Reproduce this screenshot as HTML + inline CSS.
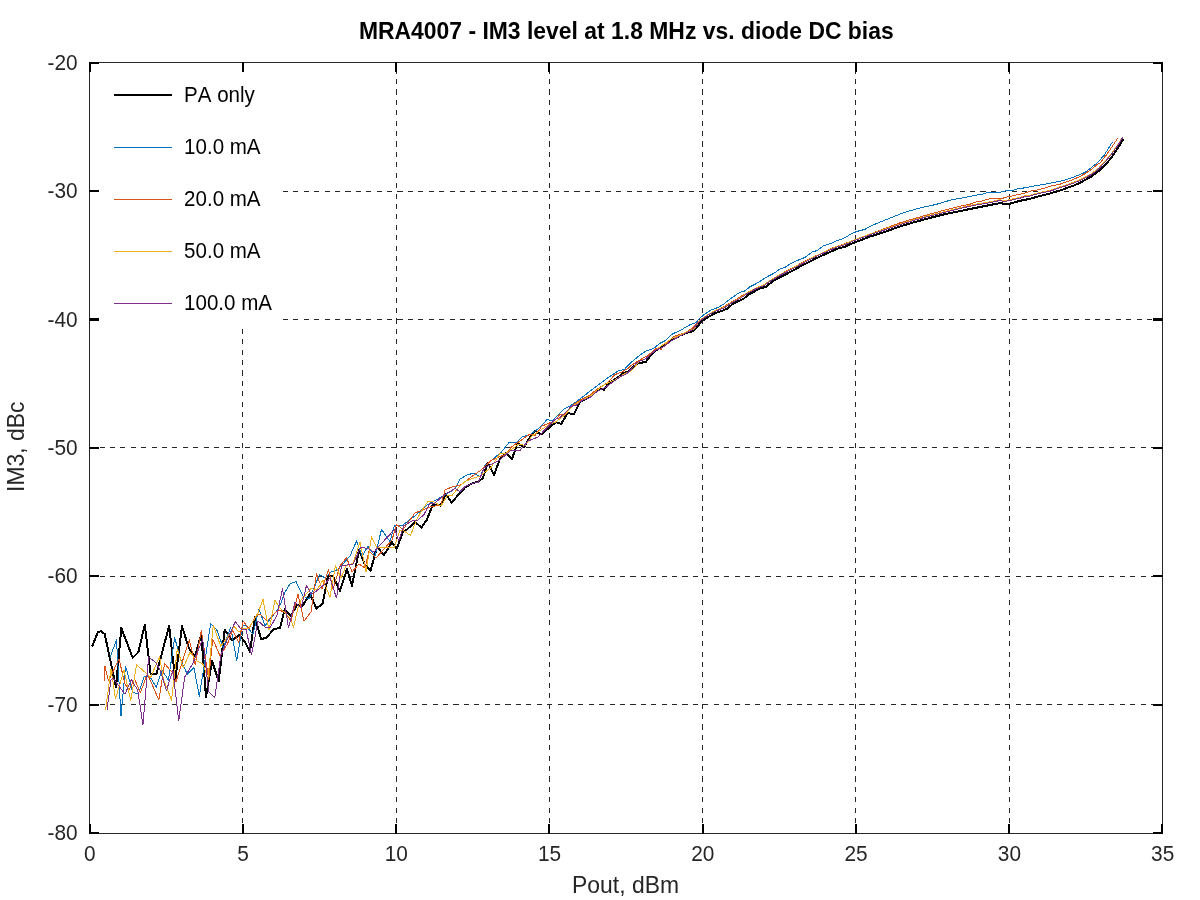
<!DOCTYPE html><html><head><meta charset="utf-8"><title>MRA4007 - IM3 level at 1.8 MHz vs. diode DC bias</title><style>html,body{margin:0;padding:0;background:#fff;width:1200px;height:900px;overflow:hidden}svg{display:block;will-change:transform}text{font-family:"Liberation Sans",Arial,Helvetica,sans-serif;font-kerning:none}</style></head><body>
<svg width="1200" height="900" viewBox="0 0 1200 900">
<rect width="1200" height="900" fill="#fff"/>
<g fill="none" stroke="#262626" stroke-width="1" shape-rendering="crispEdges" stroke-dasharray="5.10 5.31">
<path d="M242.5 62 V833 M396.5 62 V833 M549.5 62 V833 M702.5 62 V833 M855.5 62 V833 M1009.5 62 V833" stroke-dashoffset="3.81"/>
<path d="M89 191.5 H1162 M89 319.5 H1162" stroke-dashoffset="3.81"/>
<path d="M89 447.5 H1162 M89 576.5 H1162 M89 704.5 H1162" stroke-dashoffset="-0.09"/>
</g>
<path d="M92.0 646.7 L98.0 632.0 L101.3 631.3 L104.7 634.0 L116.0 687.3 L121.3 628.0 L132.7 657.8 L138.4 652.1 L144.8 624.6 L150.6 673.8 L156.3 674.4 L169.1 625.9 L175.3 679.7 L182.0 626.3 L188.7 647.7 L194.7 657.0 L201.3 634.3 L206.0 697.0 L212.0 661.0 L218.7 681.0 L224.7 629.7 L232.0 640.3 L239.3 635.0 L245.0 642.0 L250.0 652.0 L255.0 617.0 L261.0 639.0 L266.0 638.0 L274.0 629.0 L280.0 628.0 L284.7 609.3 L291.0 616.0 L296.7 605.2 L302.5 606.0 L310.0 594.0 L316.5 608.5 L322.5 604.0 L328.0 576.0 L333.0 576.0 L340.0 591.0 L347.0 569.0 L352.0 586.0 L359.0 550.0 L365.0 565.0 L370.5 571.0 L377.0 547.0 L384.0 555.0 L392.0 542.0 L396.5 549.0 L403.0 532.0 L407.0 529.5 L415.0 522.0 L421.5 527.5 L427.0 519.5 L432.5 505.5 L437.0 504.5 L440.5 505.5 L446.0 494.0 L451.5 502.5 L465.0 487.5 L472.0 483.5 L478.0 481.5 L483.0 478.0 L487.5 463.0 L490.0 467.0 L494.0 475.0 L500.0 459.0 L506.0 453.0 L512.0 459.0 L517.5 443.0 L524.0 447.5 L530.0 437.0 L535.0 431.0 L541.0 434.5 L556.0 422.0 L557.5 422.9 L561.3 423.8 L567.5 413.3 L574.2 413.8 L580.0 402.1 L588.3 397.5 L598.3 389.2 L604.2 389.6 L608.3 383.3 L613.3 380.4 L618.3 377.1 L623.3 372.9 L628.3 371.7 L634.7 365.7 L638.6 362.9 L645.6 362.2 L649.4 357.1 L656.4 350.1 L660.3 347.8 L666.5 343.1 L673.5 339.2 L679.8 335.7 L686.0 333.0 L692.2 331.4 L697.7 326.8 L700.0 322.7 L707.8 317.2 L715.6 312.9 L722.6 310.6 L727.2 308.7 L732.7 304.0 L737.3 301.7 L743.5 298.9 L748.2 294.7 L754.4 291.5 L759.9 288.4 L766.1 286.9 L771.5 282.2 L777.8 278.3 L784.0 275.2 L792.5 270.8 L800.0 266.6 L807.5 262.9 L815.0 258.8 L822.5 255.4 L830.0 252.0 L837.5 248.6 L845.0 246.8 L851.0 243.8 L860.0 240.4 L870.0 236.6 L885.0 231.8 L900.0 226.5 L915.0 222.0 L930.0 217.9 L945.0 214.1 L960.0 211.1 L965.0 210.0 L975.0 208.0 L985.0 206.0 L995.0 204.0 L1001.5 202.8 L1003.0 204.0 L1009.0 204.0 L1015.0 202.2 L1020.0 200.8 L1030.0 198.8 L1040.0 196.0 L1050.0 193.5 L1060.0 190.5 L1065.0 188.7 L1071.7 186.3 L1078.3 183.7 L1085.0 180.0 L1091.7 176.3 L1098.3 171.3 L1105.0 165.3 L1111.7 157.3 L1118.3 147.3 L1123.7 138.7" fill="none" stroke="#000" stroke-width="2" stroke-linejoin="round" shape-rendering="crispEdges"/>
<path d="M110.0 657.5 L116.5 640.0 L121.0 716.0 L125.6 666.1 L132.7 692.3 L138.4 694.2 L144.2 676.3 L150.0 677.0 L156.3 687.2 L162.1 670.0 L168.4 680.2 L174.7 637.7 L180.7 659.7 L187.3 674.3 L194.0 667.7 L199.3 696.3 L210.7 623.7 L216.7 629.7 L223.3 647.7 L230.7 627.0 L236.7 661.0 L242.7 625.0 L245.0 625.0 L253.0 634.0 L259.0 609.0 L265.0 626.0 L271.0 618.0 L279.0 608.0 L285.0 592.0 L290.0 584.0 L296.0 581.5 L303.0 596.0 L309.0 599.0 L314.0 588.0 L319.5 574.5 L325.0 578.0 L331.0 572.0 L338.0 569.5 L350.0 556.0 L356.5 541.0 L362.0 556.0 L368.0 546.5 L375.0 556.0 L381.5 529.5 L390.0 541.5 L394.5 525.0 L403.0 525.0 L415.0 516.0 L427.0 505.0 L437.0 499.5 L451.0 491.5 L456.0 487.0 L460.0 479.0 L467.0 475.0 L474.0 473.0 L480.0 477.0 L485.0 465.5 L501.0 452.5 L509.0 442.5 L516.0 443.0 L522.0 437.0 L530.0 434.5 L540.0 427.5 L547.0 419.5 L552.0 421.0 L555.0 418.3 L565.0 408.3 L569.2 406.7 L580.8 398.3 L588.3 392.5 L596.7 386.2 L608.3 377.5 L618.3 370.8 L624.2 369.6 L630.0 363.3 L634.7 359.4 L639.3 355.5 L645.6 351.3 L654.1 348.2 L659.5 343.5 L665.8 340.4 L672.0 334.2 L680.5 330.3 L689.1 325.2 L696.1 322.5 L700.0 318.0 L704.7 314.1 L710.9 310.2 L717.9 307.5 L723.3 304.4 L728.0 300.5 L734.2 296.2 L739.7 292.3 L744.3 291.2 L749.8 286.9 L756.0 283.8 L762.2 279.9 L768.4 276.0 L773.9 273.3 L780.1 269.0 L785.0 267.4 L792.5 262.5 L797.8 260.3 L805.3 257.3 L812.0 252.0 L817.3 250.5 L823.3 246.0 L830.0 243.8 L837.5 240.4 L843.5 238.5 L851.0 234.0 L857.0 231.4 L864.5 229.5 L870.0 226.5 L877.5 223.1 L885.0 220.1 L892.5 217.1 L900.0 214.1 L907.5 211.5 L915.0 209.3 L922.5 207.4 L930.0 205.9 L937.5 204.0 L945.0 201.8 L952.5 199.5 L960.0 198.4 L965.0 197.5 L971.0 196.2 L976.0 195.2 L981.0 194.5 L985.0 193.5 L987.5 192.4 L995.0 192.2 L1000.0 192.5 L1002.5 191.5 L1007.0 190.5 L1013.0 190.3 L1015.0 189.4 L1022.5 188.2 L1027.5 187.2 L1033.0 186.2 L1039.0 185.2 L1045.0 184.2 L1050.0 183.2 L1055.0 182.2 L1060.0 181.2 L1065.0 180.0 L1071.7 177.7 L1078.3 175.3 L1085.0 172.3 L1091.7 167.3 L1098.3 162.0 L1104.3 155.0 L1108.3 148.7 L1112.3 142.3" fill="none" stroke="#0072BD" stroke-width="1" stroke-linejoin="round" shape-rendering="crispEdges"/>
<path d="M104.5 681.5 L105.0 666.5 L108.5 681.0 L119.0 659.0 L125.0 684.0 L129.0 690.0 L134.6 678.9 L140.3 693.0 L147.4 673.8 L158.9 700.0 L164.6 663.6 L172.3 672.5 L176.0 681.7 L189.3 639.7 L195.3 665.0 L201.3 630.3 L208.7 679.7 L212.7 639.0 L220.0 655.7 L227.3 644.3 L232.7 630.3 L238.7 642.3 L243.3 621.0 L249.0 629.0 L255.0 617.0 L260.0 614.0 L267.0 621.0 L278.0 610.0 L285.0 612.0 L291.0 621.0 L298.0 594.0 L304.0 621.0 L311.0 612.0 L316.5 573.5 L322.0 589.0 L328.5 569.5 L333.0 589.0 L340.0 566.0 L346.5 557.5 L352.0 572.0 L359.0 564.0 L365.0 568.0 L369.0 551.0 L376.0 558.0 L392.0 540.0 L396.5 524.5 L403.0 529.5 L415.0 513.0 L420.0 511.0 L430.0 507.0 L441.0 505.0 L445.0 490.0 L453.0 486.5 L460.0 485.5 L475.0 474.0 L480.0 471.0 L491.0 460.5 L505.0 454.5 L512.0 446.5 L530.0 434.0 L535.0 435.5 L542.0 426.0 L552.0 422.0 L556.0 419.0 L560.0 414.6 L564.0 415.0 L570.0 408.3 L574.2 404.2 L582.5 398.8 L588.3 396.2 L598.3 388.3 L606.7 383.3 L615.0 374.6 L621.7 372.1 L628.3 368.3 L630.0 366.4 L637.0 361.5 L647.9 355.5 L656.4 348.2 L661.1 349.3 L666.0 344.0 L674.3 336.1 L680.5 334.5 L686.0 332.0 L692.2 328.3 L700.0 320.3 L707.8 314.9 L715.6 310.6 L723.3 307.1 L729.5 303.2 L735.8 299.7 L742.0 295.4 L749.8 291.9 L756.0 289.2 L762.2 285.7 L767.7 282.2 L773.1 278.7 L779.3 276.0 L785.0 271.5 L792.5 267.8 L803.8 261.8 L815.0 256.1 L822.5 253.1 L831.5 248.3 L841.3 244.9 L849.5 241.9 L855.5 240.0 L860.0 237.8 L867.5 235.1 L870.0 234.0 L885.0 228.4 L900.0 222.8 L915.0 218.3 L930.0 214.1 L945.0 210.0 L955.0 207.5 L960.0 206.2 L965.0 205.2 L970.0 204.2 L975.0 202.2 L981.5 201.2 L987.5 199.2 L993.0 198.2 L1003.0 198.2 L1006.0 197.2 L1010.0 196.5 L1015.0 195.2 L1020.0 194.2 L1025.0 193.0 L1030.0 191.2 L1036.0 190.2 L1040.0 189.2 L1045.0 188.0 L1050.0 186.2 L1055.0 185.2 L1060.0 184.2 L1065.0 182.4 L1071.7 180.0 L1078.3 177.3 L1085.0 173.7 L1091.7 169.3 L1097.7 164.0 L1100.3 162.7 L1106.3 155.0 L1111.7 147.3 L1117.7 138.3" fill="none" stroke="#D95319" stroke-width="1" stroke-linejoin="round" shape-rendering="crispEdges"/>
<path d="M105.5 710.5 L111.0 669.0 L115.5 699.0 L124.0 670.0 L130.8 700.6 L136.5 664.8 L145.4 672.5 L150.6 677.6 L159.5 656.5 L163.3 678.9 L171.6 700.0 L177.3 649.0 L183.3 667.7 L190.0 652.3 L196.7 661.0 L202.7 663.7 L208.0 678.3 L213.3 625.0 L220.7 646.3 L227.0 638.0 L234.0 626.3 L239.0 632.0 L243.3 628.3 L249.0 628.0 L258.0 613.0 L263.0 599.5 L269.0 630.0 L275.0 600.5 L280.0 608.0 L290.0 618.0 L293.5 627.0 L298.0 608.0 L301.0 600.0 L311.0 588.5 L317.0 590.0 L323.0 580.0 L330.0 597.0 L335.5 565.5 L341.0 578.0 L346.0 566.0 L353.0 563.0 L360.0 542.5 L366.0 572.0 L371.5 537.0 L377.0 548.0 L384.0 547.0 L394.0 548.0 L400.0 530.0 L404.0 531.0 L410.5 535.5 L416.0 521.0 L422.0 510.0 L428.0 501.5 L434.0 502.0 L441.0 506.0 L447.5 495.5 L452.0 495.5 L458.0 488.0 L465.0 481.5 L475.0 477.5 L480.0 476.0 L491.0 467.5 L500.0 453.5 L506.0 453.0 L512.0 449.0 L519.0 444.0 L525.0 445.5 L532.0 436.0 L540.0 430.5 L550.0 424.0 L555.0 422.5 L565.0 415.0 L571.7 406.7 L581.7 400.4 L591.7 395.0 L600.0 387.5 L608.3 382.5 L615.0 380.0 L623.3 374.2 L630.0 371.7 L634.0 368.0 L639.3 361.4 L647.0 358.0 L653.0 352.0 L658.0 348.5 L664.0 344.0 L672.0 338.4 L678.0 336.0 L686.0 332.2 L694.0 329.0 L700.0 320.1 L708.0 314.5 L716.0 310.2 L724.0 307.4 L732.0 302.0 L740.0 297.9 L748.0 292.3 L756.0 288.0 L764.0 284.8 L772.0 279.3 L780.0 274.6 L788.0 270.5 L796.0 266.2 L804.0 262.0 L812.0 257.8 L820.0 253.9 L828.0 250.3 L836.0 246.7 L844.0 244.4 L852.0 240.8 L860.0 237.8 L868.0 234.8 L876.0 232.1 L884.0 229.5 L892.0 226.7 L900.0 223.9 L908.0 221.5 L916.0 219.1 L924.0 216.9 L932.0 214.8 L940.0 212.8 L948.0 210.9 L960.0 207.7 L970.0 205.4 L979.0 203.7 L987.5 202.4 L995.0 200.7 L1000.0 199.7 L1004.5 200.7 L1010.0 199.6 L1015.0 198.4 L1020.0 197.4 L1025.0 195.7 L1030.0 195.2 L1035.0 193.7 L1040.0 192.4 L1045.0 191.4 L1050.0 190.4 L1055.0 188.7 L1060.0 186.7 L1065.0 185.4 L1071.7 182.9 L1078.3 180.5 L1085.0 177.2 L1091.7 173.5 L1098.3 168.5 L1105.0 161.2 L1111.7 153.2 L1118.3 143.9 L1121.7 138.3" fill="none" stroke="#EDB120" stroke-width="1" stroke-linejoin="round" shape-rendering="crispEdges"/>
<path d="M107.0 710.0 L111.0 680.0 L113.0 678.0 L125.0 694.2 L131.4 679.5 L137.8 690.4 L142.9 724.9 L148.6 657.2 L155.7 662.3 L160.0 670.0 L166.5 690.4 L172.9 670.0 L178.7 721.0 L184.7 677.0 L192.7 663.7 L202.7 639.0 L208.7 691.7 L214.7 697.7 L220.7 655.7 L228.0 638.0 L235.3 621.7 L241.3 629.7 L246.0 629.0 L251.5 655.0 L258.0 621.0 L265.0 627.0 L270.0 628.0 L277.0 615.0 L282.5 588.5 L288.5 628.0 L295.0 602.0 L301.0 608.0 L306.5 585.5 L311.0 594.0 L314.0 593.0 L325.0 584.0 L330.0 578.0 L336.5 598.0 L341.5 566.0 L353.0 564.0 L361.0 547.0 L369.0 549.0 L374.0 552.0 L380.0 545.0 L395.0 529.0 L398.5 541.0 L404.0 525.5 L413.0 520.5 L418.0 520.0 L424.0 514.5 L430.0 503.5 L435.0 503.0 L444.0 495.0 L455.0 488.5 L460.0 491.5 L465.0 486.5 L475.0 482.5 L478.0 483.0 L484.0 468.0 L490.0 465.0 L500.0 460.0 L510.0 451.0 L520.0 450.5 L528.0 441.0 L538.0 437.0 L546.0 428.5 L555.0 419.5 L560.0 417.5 L567.5 410.8 L570.8 406.7 L576.7 405.0 L582.0 400.5 L590.0 397.5 L596.7 391.7 L606.7 386.7 L613.3 381.7 L621.7 375.8 L626.7 373.8 L630.0 370.5 L637.0 362.5 L645.6 358.7 L655.7 350.1 L662.7 347.4 L672.0 340.4 L684.4 333.8 L692.2 329.9 L700.0 320.8 L708.0 315.2 L716.0 310.9 L724.0 308.1 L732.0 302.7 L740.0 298.6 L748.0 293.0 L756.0 288.7 L764.0 285.5 L772.0 280.0 L780.0 275.3 L788.0 271.2 L796.0 266.9 L804.0 262.7 L812.0 258.5 L820.0 254.6 L828.0 251.0 L836.0 247.4 L844.0 245.1 L852.0 241.5 L860.0 238.5 L868.0 235.5 L876.0 232.8 L884.0 230.2 L892.0 227.4 L900.0 224.6 L908.0 222.2 L916.0 219.8 L924.0 217.6 L932.0 215.5 L940.0 213.5 L948.0 211.6 L960.0 208.5 L970.0 206.2 L979.0 204.5 L987.5 203.2 L995.0 201.5 L1000.0 200.5 L1004.5 201.5 L1010.0 200.4 L1015.0 199.2 L1020.0 198.2 L1025.0 196.5 L1030.0 196.0 L1035.0 194.5 L1040.0 193.2 L1045.0 192.2 L1050.0 191.2 L1055.0 189.5 L1060.0 187.5 L1065.0 186.2 L1071.7 183.7 L1078.3 181.3 L1085.0 178.0 L1091.7 174.3 L1098.3 169.3 L1105.0 162.0 L1111.7 154.0 L1118.3 144.7 L1122.7 137.3" fill="none" stroke="#7E2F8E" stroke-width="1" stroke-linejoin="round" shape-rendering="crispEdges"/>
<rect x="90" y="63" width="193" height="265" fill="#fff"/>
<rect x="89.5" y="62.5" width="1073" height="771" fill="none" stroke="#262626" stroke-width="1" shape-rendering="crispEdges"/>
<g fill="#000"><rect x="89" y="62" width="2" height="10"/><rect x="89" y="824" width="2" height="10"/><rect x="242" y="62" width="2" height="10"/><rect x="242" y="824" width="2" height="10"/><rect x="395" y="62" width="2" height="10"/><rect x="395" y="824" width="2" height="10"/><rect x="548" y="62" width="2" height="10"/><rect x="548" y="824" width="2" height="10"/><rect x="702" y="62" width="2" height="10"/><rect x="702" y="824" width="2" height="10"/><rect x="855" y="62" width="2" height="10"/><rect x="855" y="824" width="2" height="10"/><rect x="1008" y="62" width="2" height="10"/><rect x="1008" y="824" width="2" height="10"/><rect x="1161" y="62" width="2" height="10"/><rect x="1161" y="824" width="2" height="10"/><rect x="89" y="62" width="10" height="2"/><rect x="1153" y="62" width="10" height="2"/><rect x="89" y="190" width="10" height="2"/><rect x="1153" y="190" width="10" height="2"/><rect x="89" y="318" width="10" height="3"/><rect x="1153" y="318" width="10" height="3"/><rect x="89" y="447" width="10" height="2"/><rect x="1153" y="447" width="10" height="2"/><rect x="89" y="575" width="10" height="2"/><rect x="1153" y="575" width="10" height="2"/><rect x="89" y="704" width="10" height="2"/><rect x="1153" y="704" width="10" height="2"/><rect x="89" y="832" width="10" height="2"/><rect x="1153" y="832" width="10" height="2"/></g>
<text transform="translate(89.70 861.00) scale(1.000 1.060)" font-size="20.83" text-anchor="middle" fill="#262626">0</text>
<text transform="translate(242.98 861.00) scale(1.000 1.060)" font-size="20.83" text-anchor="middle" fill="#262626">5</text>
<text transform="translate(396.27 861.00) scale(1.000 1.060)" font-size="20.83" text-anchor="middle" fill="#262626">10</text>
<text transform="translate(549.56 861.00) scale(1.000 1.060)" font-size="20.83" text-anchor="middle" fill="#262626">15</text>
<text transform="translate(702.84 861.00) scale(1.000 1.060)" font-size="20.83" text-anchor="middle" fill="#262626">20</text>
<text transform="translate(856.12 861.00) scale(1.000 1.060)" font-size="20.83" text-anchor="middle" fill="#262626">25</text>
<text transform="translate(1009.41 861.00) scale(1.000 1.060)" font-size="20.83" text-anchor="middle" fill="#262626">30</text>
<text transform="translate(1162.69 861.00) scale(1.000 1.060)" font-size="20.83" text-anchor="middle" fill="#262626">35</text>
<text transform="translate(77.60 70.30) scale(1.000 1.060)" font-size="20.83" text-anchor="end" fill="#262626">-20</text>
<text transform="translate(77.60 198.30) scale(1.000 1.060)" font-size="20.83" text-anchor="end" fill="#262626">-30</text>
<text transform="translate(77.60 326.80) scale(1.000 1.060)" font-size="20.83" text-anchor="end" fill="#262626">-40</text>
<text transform="translate(77.60 455.30) scale(1.000 1.060)" font-size="20.83" text-anchor="end" fill="#262626">-50</text>
<text transform="translate(77.60 583.30) scale(1.000 1.060)" font-size="20.83" text-anchor="end" fill="#262626">-60</text>
<text transform="translate(77.60 712.30) scale(1.000 1.060)" font-size="20.83" text-anchor="end" fill="#262626">-70</text>
<text transform="translate(77.60 840.30) scale(1.000 1.060)" font-size="20.83" text-anchor="end" fill="#262626">-80</text>
<text transform="translate(625.50 893.00) scale(1.000 1.060)" font-size="22.92" text-anchor="middle" fill="#262626">Pout, dBm</text>
<text transform="translate(24.00 446.70) rotate(-90) scale(1.000 1.060)" font-size="22.92" text-anchor="middle" fill="#262626">IM3, dBc</text>
<text transform="translate(626.30 38.80) scale(1.000 1.060)" font-size="22.92" text-anchor="middle" font-weight="bold" fill="#000">MRA4007 - IM3 level at 1.8 MHz vs. diode DC bias</text>
<rect x="114" y="94" width="58" height="2" fill="#000"/>
<text transform="translate(184.10 101.80) scale(1.000 1.060)" font-size="20.54" fill="#000">PA only</text>
<rect x="114" y="147" width="58" height="1" fill="#0072BD"/>
<text transform="translate(184.10 153.80) scale(1.000 1.060)" font-size="20.54" fill="#000">10.0 mA</text>
<rect x="114" y="199" width="58" height="1" fill="#D95319"/>
<text transform="translate(184.10 205.80) scale(1.000 1.060)" font-size="20.54" fill="#000">20.0 mA</text>
<rect x="114" y="251" width="58" height="1" fill="#EDB120"/>
<text transform="translate(184.10 257.80) scale(1.000 1.060)" font-size="20.54" fill="#000">50.0 mA</text>
<rect x="114" y="303" width="58" height="1" fill="#7E2F8E"/>
<text transform="translate(184.10 309.80) scale(1.000 1.060)" font-size="20.54" fill="#000">100.0 mA</text>
</svg></body></html>
